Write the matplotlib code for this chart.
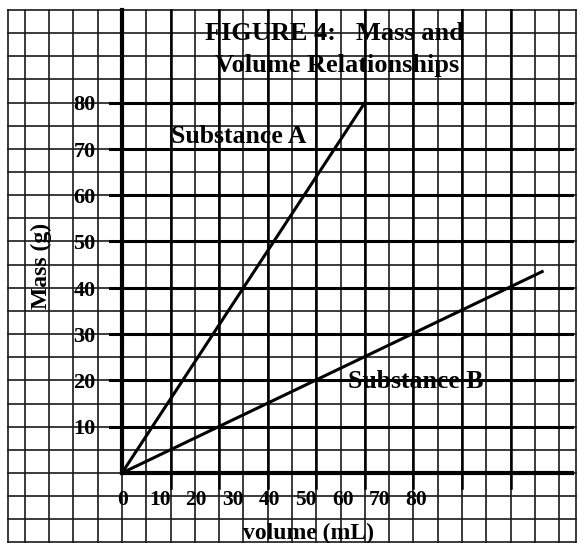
import numpy as np
import matplotlib
matplotlib.use("Agg")
import matplotlib.pyplot as plt

plt.rcParams['font.family'] = ['Liberation Serif', 'DejaVu Serif']
plt.rcParams['font.weight'] = 'bold'

# data
volume_a = [0, 50]
mass_a = [0, 80]
volume_b = [0, 86.5]
mass_b = [0, 43.5]

x_tick_text = ['0', '10', '20', '30', '40', '50', '60', '70', '80']
y_tick_values = [10, 20, 30, 40, 50, 60, 70, 80]
x_major = [10, 20, 30, 40, 50, 60, 70, 80]

fig = plt.figure(figsize=(5.83, 5.43), dpi=100)
ax = fig.add_axes([0, 0, 1, 1])
ax.set_xlim(-25.1, 94.9)
ax.set_ylim(-15.12, 102.16)
ax.axis('off')

# graph paper
for gx in np.arange(-20, 91, 5):
    ax.plot([gx, gx], [-16, 100], color='#1a1a1a', lw=1.2, zorder=1)
for gy in np.arange(-15, 101, 5):
    ax.plot([-23.5, 93.4], [gy, gy], color='#1a1a1a', lw=1.2, zorder=1)
ax.plot([-23.5, -23.5], [-16, 100], color='#1a1a1a', lw=1.2, zorder=1)
ax.plot([93.4, 93.4], [-16, 100], color='#1a1a1a', lw=1.2, zorder=1)

# heavier ruling at the labelled values
for gx in x_major:
    ax.plot([gx, gx], [-3.2, 100], color='black', lw=1.8, zorder=2)
for gy in y_tick_values:
    ax.plot([-2.5, 92.6], [gy, gy], color='black', lw=2.2, zorder=2)

# axes
ax.plot([0, 0], [0, 100], color='black', lw=3, zorder=3)
ax.plot([0, 92.6], [0, 0], color='black', lw=3, zorder=3)

# substance lines
ax.plot(volume_a, mass_a, color='black', lw=2.2, zorder=4)
ax.plot(volume_b, mass_b, color='black', lw=2.2, zorder=4)

# tick labels
for i, t in enumerate(x_tick_text):
    ax.text(0.2 + 7.55 * i, -5.8, t, ha='center', va='center', fontsize=15.5, zorder=5)
for v in y_tick_values:
    ax.text(-5.4, v - 0.6, str(v), ha='right', va='center', fontsize=16, zorder=5)

ax.text(-16.5, 44.7, 'Mass (g)', rotation=90, ha='center', va='center', fontsize=17, zorder=5)
ax.text(38.3, -13.0, 'volume (mL)', ha='center', va='center', fontsize=17, zorder=5)

ax.text(43.8, 95.0, 'FIGURE 4:   Mass and', ha='center', va='center', fontsize=19, zorder=5)
ax.text(44.2, 88.1, 'Volume Relationships', ha='center', va='center', fontsize=19, zorder=5)

ax.text(24.1, 72.6, 'Substance A', ha='center', va='center', fontsize=18.5, zorder=5)
ax.text(60.5, 19.7, 'Substance B', ha='center', va='center', fontsize=18.5, zorder=5)

fig.savefig('out.png', dpi=100, facecolor='white')
